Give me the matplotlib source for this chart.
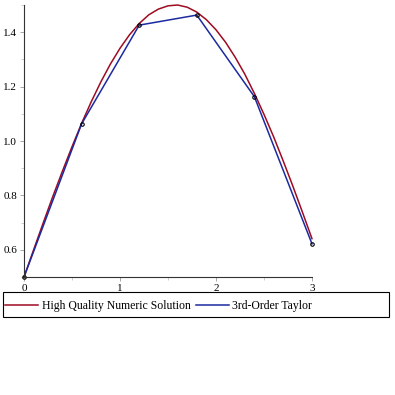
import matplotlib
matplotlib.use("Agg")
import matplotlib.pyplot as plt
from matplotlib.patches import Rectangle
from matplotlib.ticker import MultipleLocator

plt.rcParams['font.family'] = ['Liberation Serif', 'DejaVu Serif']

# high quality numeric solution
x_num = [0.0, 0.1, 0.2, 0.3, 0.4, 0.5, 0.6, 0.7, 0.8, 0.9, 1.0,
         1.1, 1.2, 1.3, 1.4, 1.5, 1.6, 1.7, 1.8, 1.9, 2.0,
         2.1, 2.2, 2.3, 2.4, 2.5, 2.6, 2.7, 2.8, 2.9, 3.0]
y_num = [0.500, 0.600, 0.699, 0.796, 0.889, 0.979, 1.065, 1.144, 1.217, 1.283, 1.341,
         1.391, 1.432, 1.464, 1.485, 1.497, 1.500, 1.492, 1.474, 1.446, 1.409,
         1.363, 1.308, 1.246, 1.175, 1.098, 1.016, 0.927, 0.835, 0.739, 0.641]

# 3rd-order Taylor steps
x_tay = [0.0, 0.6, 1.2, 1.8, 2.4, 3.0]
y_tay = [0.50, 1.063, 1.426, 1.463, 1.163, 0.622]

red = '#9e0b22'
blue = '#1b2aa0'

fig = plt.figure(figsize=(3.95, 3.95), dpi=100)
ax = fig.add_axes([0.0608, 0.2987, 0.729, 0.6886])

l1, = ax.plot(x_num, y_num, color=red, lw=1.1, clip_on=False)
l2, = ax.plot(x_tay, y_tay, color=blue, lw=1.1, clip_on=False)
ax.plot(x_tay, y_tay, 'o', ms=2.5, mfc='none', mec='black', mew=0.8,
        clip_on=False)

ax.set_xlim(0, 3)
ax.set_ylim(0.5, 1.5)
for s in ('top', 'right'):
  ax.spines[s].set_visible(False)
for s in ('left', 'bottom'):
  ax.spines[s].set_linewidth(0.8)
  ax.spines[s].set_color('#333333')

ax.xaxis.set_major_locator(MultipleLocator(1))
ax.xaxis.set_minor_locator(MultipleLocator(0.5))
ax.yaxis.set_minor_locator(MultipleLocator(0.1))
ax.set_yticks([0.6, 0.8, 1.0, 1.2, 1.4])
ax.set_yticklabels(['0.6', '0.8', '1.0', '1.2', '1.4'])
ax.tick_params(which='major', length=3, width=0.6, color='#999999',
               labelsize=8, pad=2)
ax.tick_params(which='minor', length=2, width=0.5, color='#bbbbbb')

# legend: frame spans the width, entries packed to the left
fig.add_artist(Rectangle((0.0076, 0.1975), 0.977, 0.063, transform=fig.transFigure,
                         fill=False, edgecolor='black', lw=0.8))
fig.legend([l1, l2], ['High Quality Numeric Solution', '3rd-Order Taylor'],
           loc='center left', bbox_to_anchor=(0.0076, 0.225), ncol=2,
           fontsize=8.5, frameon=False, handlelength=2.8, handletextpad=0.3,
           columnspacing=0.4, borderaxespad=0, borderpad=0.2)

fig.savefig('out.png', dpi=100)
